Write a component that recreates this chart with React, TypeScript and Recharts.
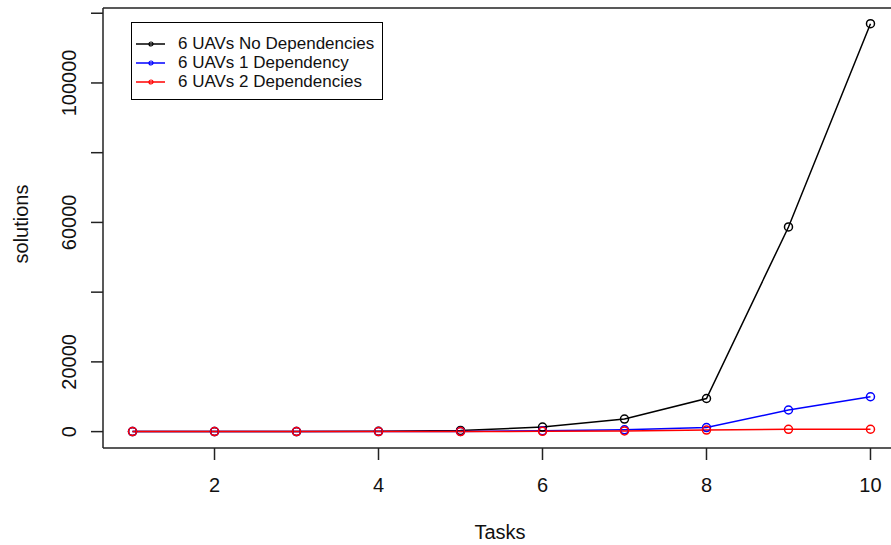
import { LineChart, Line, XAxis, YAxis, Legend, ReferenceLine } from 'recharts';

// values
const tasks = [1, 2, 3, 4, 5, 6, 7, 8, 9, 10];
const noDependencies = [1, 4, 18, 80, 350, 1300, 3600, 9500, 58700, 117000];
const oneDependency = [0, 1, 4, 15, 60, 250, 500, 1150, 6200, 10000];
const twoDependencies = [0, 0, 1, 5, 20, 80, 200, 450, 650, 680];

const xTicks = [2, 4, 6, 8, 10];
const yTicks = [0, 20000, 40000, 60000, 80000, 100000, 120000];
const yLabelled = [0, 20000, 60000, 100000];

const seriesNames = ['6 UAVs No Dependencies', '6 UAVs 1 Dependency', '6 UAVs 2 Dependencies'];
const seriesColors = ['#000000', '#0000ff', '#ff0000'];

const data = tasks.map((t, i) => ({
  tasks: t,
  noDeps: noDependencies[i],
  oneDep: oneDependency[i],
  twoDeps: twoDependencies[i],
}));

const FONT = '"Liberation Sans", Arial, sans-serif';
const AXIS = '#222';

function XTick({ x, y, payload }: any) {
  return (
    <text x={x} y={y + 30} textAnchor="middle" fontSize={20} fontFamily={FONT} fill="#111">
      {payload.value}
    </text>
  );
}

function YTick({ x, y, payload }: any) {
  if (!yLabelled.includes(payload.value)) return <g />;
  const bx = x - 13;
  return (
    <text
      x={bx}
      y={y}
      transform={`rotate(-90 ${bx} ${y})`}
      textAnchor="middle"
      fontSize={20}
      fontFamily={FONT}
      fill="#111"
    >
      {payload.value}
    </text>
  );
}

function LegendBox() {
  return (
    <div
      style={{
        border: '1.5px solid #000',
        background: '#fff',
        boxSizing: 'border-box',
        width: 252,
        height: 78,
        paddingTop: 11,
        fontFamily: FONT,
        fontSize: 17,
        color: '#111',
      }}
    >
      {seriesNames.map((name, i) => (
        <div key={name} style={{ display: 'flex', alignItems: 'center', height: 19 }}>
          <svg width={46} height={10} style={{ flex: 'none' }}>
            <line x1={4} y1={5} x2={33} y2={5} stroke={seriesColors[i]} strokeWidth={1.5} />
            <circle cx={19} cy={5} r={2} fill="none" stroke={seriesColors[i]} strokeWidth={1.2} />
          </svg>
          <span style={{ lineHeight: '19px' }}>{name}</span>
        </div>
      ))}
    </div>
  );
}

export default function App() {
  const keys = ['noDeps', 'oneDep', 'twoDeps'];
  return (
    <div style={{ position: 'absolute', left: 0, top: 0, width: 891, height: 545, overflow: 'hidden', background: '#fff' }}>
      <LineChart width={900} height={545} data={data} margin={{ top: 8, right: 0, bottom: 0, left: 0 }}>
        <XAxis
          dataKey="tasks"
          type="number"
          domain={[0.64, 10.36]}
          ticks={xTicks}
          tick={<XTick />}
          tickSize={12}
          height={97}
          stroke={AXIS}
          strokeWidth={1.5}
          allowDataOverflow
          label={() => (
            <text x={500} y={539} textAnchor="middle" fontSize={20} fontFamily={FONT} fill="#111">
              Tasks
            </text>
          )}
        />
        <YAxis
          type="number"
          domain={[-4700, 121500]}
          ticks={yTicks}
          tick={<YTick />}
          tickSize={12}
          width={103}
          stroke={AXIS}
          strokeWidth={1.5}
          allowDataOverflow
          label={() => (
            <text
              x={28}
              y={224}
              transform="rotate(-90 28 224)"
              textAnchor="middle"
              fontSize={20}
              fontFamily={FONT}
              fill="#111"
            >
              solutions
            </text>
          )}
        />
        <ReferenceLine y={121500} stroke={AXIS} strokeWidth={1.5} />
        {keys.map((k, i) => (
          <Line
            key={k}
            type="linear"
            dataKey={k}
            name={seriesNames[i]}
            stroke={seriesColors[i]}
            strokeWidth={1.5}
            dot={{ r: 4, fill: 'none', stroke: seriesColors[i], strokeWidth: 1.5 }}
            activeDot={false}
            isAnimationActive={false}
          />
        ))}
        <Legend
          layout="vertical"
          align="center"
          verticalAlign="middle"
          content={<LegendBox />}
          wrapperStyle={{ left: 131, top: 22, width: 252, height: 78, right: 'auto', bottom: 'auto' }}
        />
      </LineChart>
    </div>
  );
}
